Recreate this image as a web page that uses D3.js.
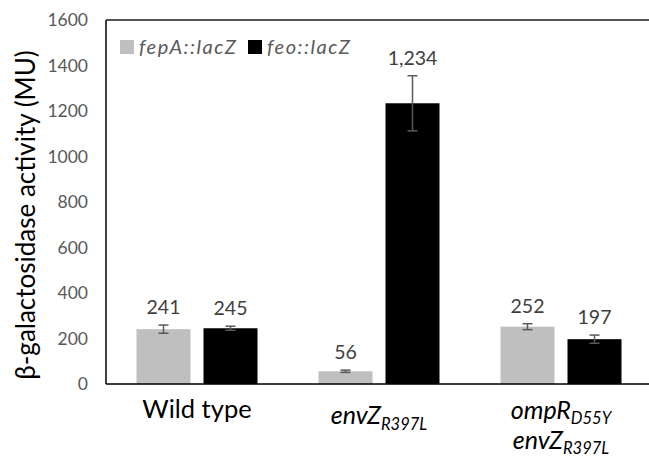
<!DOCTYPE html>
<html>
<head>
<meta charset="utf-8">
<script src="https://cdn.jsdelivr.net/npm/d3@7"></script>
<style>
  body { margin: 0; background: #fff; }
  svg { display: block; font-family: Lato, "Open Sans", sans-serif; }
</style>
</head>
<body>
<svg id="chart" width="649" height="459"></svg>
<script>
// groups and series
const groups = ["wt", "envZ", "ompR"];
const seriesNames = ["fepA::lacZ", "feo::lacZ"];
const seriesColors = ["#bfbfbf", "#000000"];
const fepAValues = [241, 56, 252];
const feoValues = [245, 1234, 197];
const fepAErrors = [18, 5, 13];
const feoErrors = [9, 121, 18];
const yTicks = [0, 200, 400, 600, 800, 1000, 1200, 1400, 1600];

// group label lines: [main text, subscript, italic]
const groupLabels = [
  [["Wild type", "", false]],
  [["envZ", "R397L", true]],
  [["ompR", "D55Y", true], ["envZ", "R397L", true]]
];

const svg = d3.select("#chart");
const plotLeft = 106, plotRight = 652, plotTop = 20, plotBottom = 384;

const x0 = d3.scaleBand().domain(groups).range([plotLeft, plotRight]).padding(0);
const x1 = d3.scaleBand().domain([0, 1])
  .range([30.5, x0.bandwidth() - 30.5]).paddingInner(0.194).paddingOuter(0);
const y = d3.scaleLinear().domain([0, 1600]).range([plotBottom, plotTop]);

// y tick labels (no tick marks, no gridlines)
const yAxis = d3.axisLeft(y).tickValues(yTicks).tickSize(0).tickPadding(18)
  .tickFormat(d3.format("d"));
const yg = svg.append("g").attr("transform", `translate(${plotLeft},0)`).call(yAxis);
yg.select(".domain").remove();
yg.selectAll("text").attr("fill", "#595959").style("font-size", "17.5px")
  .style("font-family", "Lato, sans-serif");

// bars
const rows = groups.map((g, i) => [
  { g, s: 0, v: fepAValues[i], e: fepAErrors[i] },
  { g, s: 1, v: feoValues[i], e: feoErrors[i] }
]).flat();

svg.append("g").selectAll("rect").data(rows).join("rect")
  .attr("x", d => x0(d.g) + x1(d.s))
  .attr("width", x1.bandwidth())
  .attr("y", d => y(d.v))
  .attr("height", d => y(0) - y(d.v))
  .attr("fill", d => seriesColors[d.s]);

// error bars
const eb = svg.append("g").attr("stroke", "#595959").attr("stroke-width", 1.5);
rows.forEach(d => {
  const cx = x0(d.g) + x1(d.s) + x1.bandwidth() / 2;
  eb.append("line").attr("x1", cx).attr("x2", cx)
    .attr("y1", y(d.v + d.e)).attr("y2", y(d.v - d.e));
  [d.v + d.e, d.v - d.e].forEach(v => {
    eb.append("line").attr("x1", cx - 5).attr("x2", cx + 5)
      .attr("y1", y(v)).attr("y2", y(v));
  });
});

// value labels above the error bars
svg.append("g").selectAll("text").data(rows).join("text")
  .attr("x", d => x0(d.g) + x1(d.s) + x1.bandwidth() / 2)
  .attr("y", d => y(d.v + d.e) - 11)
  .attr("text-anchor", "middle")
  .attr("fill", "#404040")
  .style("font-size", "19.5px")
  .text(d => d3.format(",")(d.v));

// axis lines: left, bottom, top border
svg.append("line").attr("x1", plotLeft).attr("x2", plotLeft).attr("y1", plotTop).attr("y2", plotBottom)
  .attr("stroke", "#000").attr("stroke-width", 1.5);
svg.append("line").attr("x1", plotLeft).attr("x2", plotRight).attr("y1", plotBottom).attr("y2", plotBottom)
  .attr("stroke", "#000").attr("stroke-width", 1.5);
svg.append("line").attr("x1", plotLeft).attr("x2", plotRight).attr("y1", plotTop).attr("y2", plotTop)
  .attr("stroke", "#1a1a1a").attr("stroke-width", 1.5);

// category labels
const lineY = [[418], [424], [419, 449]];
groups.forEach((g, i) => {
  groupLabels[i].forEach((ln, j) => {
    const t = svg.append("text")
      .attr("x", x0(g) + x0.bandwidth() / 2)
      .attr("y", lineY[i][j])
      .attr("text-anchor", "middle")
      .attr("fill", "#000")
      .style("font-size", ln[2] ? "25px" : "25.5px")
      .style("font-style", ln[2] ? "italic" : "normal");
    t.append("tspan").text(ln[0]);
    if (ln[1]) t.append("tspan").attr("dy", i === 2 ? 5 : 6).style("font-size", "16.5px").text(ln[1]);
  });
});

// y axis title
svg.append("text")
  .attr("transform", `translate(35,215) rotate(-90)`)
  .attr("text-anchor", "middle")
  .attr("fill", "#000")
  .style("font-size", "26px")
  .text("β-galactosidase activity (MU)");

// legend
const legX = [120, 248];
seriesNames.forEach((name, i) => {
  svg.append("rect").attr("x", legX[i]).attr("y", 40).attr("width", 14).attr("height", 14)
    .attr("fill", seriesColors[i]);
  svg.append("text").attr("x", legX[i] + 19).attr("y", 54)
    .attr("fill", "#595959")
    .style("font-size", "20px").style("font-style", "italic")
    .style("letter-spacing", "1.5px")
    .text(name);
});
</script>
</body>
</html>
